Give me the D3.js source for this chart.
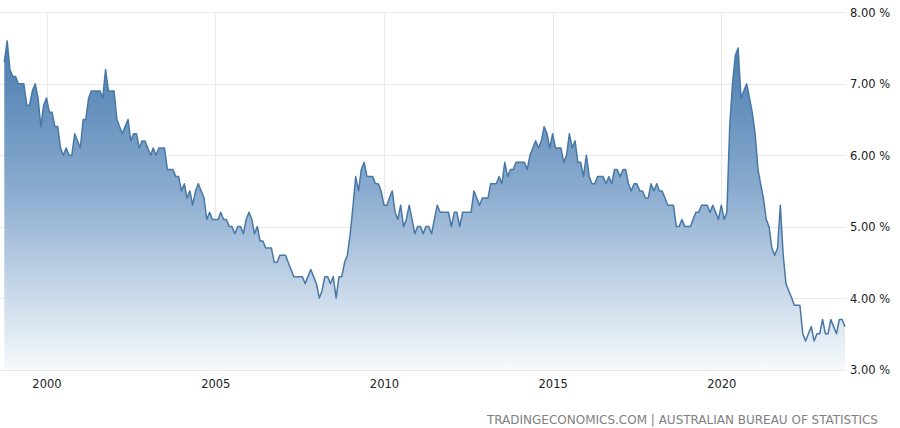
<!DOCTYPE html>
<html>
<head>
<meta charset="utf-8">
<script src="https://cdn.jsdelivr.net/npm/d3@7"></script>
<style>
  html, body { margin: 0; padding: 0; background: #ffffff; }
  svg { display: block; }
</style>
</head>
<body>
<svg id="chart" width="900" height="428"></svg>
<script>
// ---- Data (Australia unemployment rate, monthly, %) ----
const firstMonth = "1998-10";
const rate1998 = [7.3, 7.6, 7.2];
const rate1999 = [7.1, 7.1, 7.0, 7.0, 7.0, 6.7, 6.7, 6.9, 7.0, 6.8, 6.4, 6.7];
const rate2000 = [6.8, 6.6, 6.6, 6.4, 6.4, 6.1, 6.0, 6.1, 6.0, 6.0, 6.3, 6.2];
const rate2001 = [6.1, 6.5, 6.5, 6.8, 6.9, 6.9, 6.9, 6.9, 6.8, 7.2, 6.9, 6.9];
const rate2002 = [6.9, 6.5, 6.4, 6.3, 6.4, 6.5, 6.2, 6.3, 6.3, 6.1, 6.2, 6.2];
const rate2003 = [6.1, 6.0, 6.1, 6.0, 6.1, 6.1, 6.1, 5.8, 5.8, 5.8, 5.7, 5.7];
const rate2004 = [5.5, 5.6, 5.4, 5.5, 5.3, 5.5, 5.6, 5.5, 5.4, 5.1, 5.2, 5.1];
const rate2005 = [5.1, 5.1, 5.2, 5.1, 5.1, 5.0, 5.0, 4.9, 5.0, 5.0, 4.9, 5.1];
const rate2006 = [5.2, 5.1, 4.9, 5.0, 4.8, 4.8, 4.7, 4.7, 4.7, 4.5, 4.5, 4.6];
const rate2007 = [4.6, 4.6, 4.5, 4.4, 4.3, 4.3, 4.3, 4.3, 4.2, 4.3, 4.4, 4.3];
const rate2008 = [4.2, 4.0, 4.1, 4.3, 4.3, 4.2, 4.3, 4.0, 4.3, 4.3, 4.5, 4.6];
const rate2009 = [4.9, 5.3, 5.7, 5.5, 5.8, 5.9, 5.7, 5.7, 5.7, 5.6, 5.6, 5.5];
const rate2010 = [5.3, 5.3, 5.4, 5.5, 5.2, 5.1, 5.3, 5.0, 5.1, 5.3, 5.1, 4.9];
const rate2011 = [5.0, 5.0, 4.9, 5.0, 5.0, 4.9, 5.1, 5.3, 5.2, 5.2, 5.2, 5.2];
const rate2012 = [5.0, 5.2, 5.2, 5.0, 5.2, 5.2, 5.2, 5.2, 5.5, 5.4, 5.3, 5.4];
const rate2013 = [5.4, 5.4, 5.6, 5.6, 5.6, 5.7, 5.6, 5.9, 5.7, 5.8, 5.8, 5.9];
const rate2014 = [5.9, 5.9, 5.9, 5.8, 6.0, 6.1, 6.2, 6.1, 6.2, 6.4, 6.3, 6.1];
const rate2015 = [6.3, 6.1, 6.1, 6.1, 5.9, 6.0, 6.3, 6.1, 6.2, 5.9, 5.9, 5.7];
const rate2016 = [6.0, 5.7, 5.6, 5.6, 5.7, 5.7, 5.7, 5.6, 5.7, 5.6, 5.8, 5.8];
const rate2017 = [5.7, 5.8, 5.8, 5.6, 5.5, 5.6, 5.6, 5.5, 5.5, 5.4, 5.4, 5.6];
const rate2018 = [5.5, 5.6, 5.5, 5.5, 5.4, 5.3, 5.3, 5.3, 5.0, 5.0, 5.1, 5.0];
const rate2019 = [5.0, 5.0, 5.1, 5.2, 5.2, 5.3, 5.3, 5.3, 5.2, 5.3, 5.2, 5.1];
const rate2020 = [5.3, 5.1, 5.2, 6.4, 7.0, 7.4, 7.5, 6.8, 6.9, 7.0, 6.8, 6.6];
const rate2021 = [6.3, 5.8, 5.6, 5.4, 5.1, 5.0, 4.7, 4.6, 4.7, 5.3, 4.6, 4.2];
const rate2022 = [4.1, 4.0, 3.9, 3.9, 3.9, 3.5, 3.4, 3.5, 3.6, 3.4, 3.5, 3.5];
const rate2023 = [3.7, 3.5, 3.5, 3.7, 3.6, 3.5, 3.7, 3.7, 3.6];

const yTicks = [3, 4, 5, 6, 7, 8];
const xTickYears = [2000, 2005, 2010, 2015, 2020];
const sourceText = "TRADINGECONOMICS.COM | AUSTRALIAN BUREAU OF STATISTICS";

// ---- Build the monthly series ----
const values = [].concat(rate1998, rate1999, rate2000, rate2001, rate2002, rate2003,
  rate2004, rate2005, rate2006, rate2007, rate2008, rate2009, rate2010, rate2011,
  rate2012, rate2013, rate2014, rate2015, rate2016, rate2017, rate2018, rate2019,
  rate2020, rate2021, rate2022, rate2023);
const start = d3.timeParse("%Y-%m")(firstMonth);
const data = values.map((v, i) => ({ date: d3.timeMonth.offset(start, i), value: v }));

// ---- Layout ----
const svg = d3.select("#chart");
const plotLeft = 0, plotRight = 846, plotTop = 12.3, plotBottom = 369.5;
const dataLeft = 4.3, dataRight = 845;

const x = d3.scaleTime()
  .domain([data[0].date, data[data.length - 1].date])
  .range([dataLeft, dataRight]);
const y = d3.scaleLinear().domain([3, 8]).range([plotBottom, plotTop]);

// gradient
const defs = svg.append("defs");
const grad = defs.append("linearGradient")
  .attr("id", "areaGrad")
  .attr("gradientUnits", "userSpaceOnUse")
  .attr("x1", 0).attr("x2", 0)
  .attr("y1", y(7.6)).attr("y2", y(3));
grad.append("stop").attr("offset", "0%").attr("stop-color", "#477bae");
grad.append("stop").attr("offset", "45%").attr("stop-color", "#8aabcf");
grad.append("stop").attr("offset", "100%").attr("stop-color", "#f6f9fc");

// horizontal gridlines
svg.append("g").selectAll("line")
  .data(yTicks).join("line")
  .attr("x1", plotLeft).attr("x2", plotRight)
  .attr("y1", d => Math.round(y(d)) + 0.5).attr("y2", d => Math.round(y(d)) + 0.5)
  .attr("stroke", "#e8e8e8").attr("stroke-width", 1);

// vertical gridlines
svg.append("g").selectAll("line")
  .data(xTickYears).join("line")
  .attr("x1", d => Math.round(x(new Date(d, 0, 1))) + 0.5)
  .attr("x2", d => Math.round(x(new Date(d, 0, 1))) + 0.5)
  .attr("y1", plotTop).attr("y2", plotBottom)
  .attr("stroke", "#e8e8e8").attr("stroke-width", 1);

// area
const area = d3.area()
  .x(d => x(d.date))
  .y0(y(3))
  .y1(d => y(d.value));
svg.append("path")
  .datum(data)
  .attr("d", area)
  .attr("fill", "url(#areaGrad)");

// line
const line = d3.line()
  .x(d => x(d.date))
  .y(d => y(d.value));
svg.append("path")
  .datum(data)
  .attr("d", line)
  .attr("fill", "none")
  .attr("stroke", "#4878a6")
  .attr("stroke-width", 1.5)
  .attr("stroke-linejoin", "round");

// y-axis labels (right)
const yAxis = d3.axisRight(y)
  .tickValues(yTicks)
  .tickSize(0)
  .tickPadding(0)
  .tickFormat(d => d3.format(".2f")(d) + " %");
const yG = svg.append("g")
  .attr("transform", `translate(850,0)`)
  .call(yAxis);
yG.select(".domain").remove();
yG.selectAll("text")
  .attr("x", 0)
  .attr("dy", "0.35em")
  .attr("fill", "#222")
  .style("font-family", "'DejaVu Sans', Verdana, sans-serif")
  .style("font-size", "11.5px");

// x-axis labels
const xAxis = d3.axisBottom(x)
  .tickValues(xTickYears.map(yr => new Date(yr, 0, 1)))
  .tickSize(0)
  .tickPadding(0)
  .tickFormat(d3.timeFormat("%Y"));
const xG = svg.append("g")
  .attr("transform", `translate(0,${plotBottom})`)
  .call(xAxis);
xG.select(".domain").remove();
xG.selectAll("text")
  .attr("y", 18)
  .attr("dy", 0)
  .attr("fill", "#222")
  .style("font-family", "'DejaVu Sans', Verdana, sans-serif")
  .style("font-size", "11.5px");

// source footer
svg.append("text")
  .attr("x", 878)
  .attr("y", 424)
  .attr("text-anchor", "end")
  .attr("fill", "#808080")
  .attr("textLength", 391)
  .attr("lengthAdjust", "spacingAndGlyphs")
  .style("font-family", "'DejaVu Sans', sans-serif")
  .style("font-stretch", "condensed")
  .style("font-size", "12.5px")
  .text(sourceText);
</script>
</body>
</html>
